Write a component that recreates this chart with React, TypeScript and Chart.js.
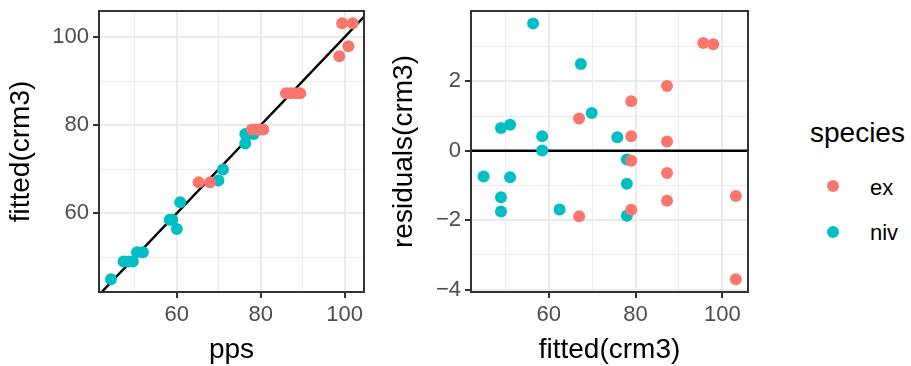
import React, { useEffect, useRef } from 'react';
import { Chart, registerables } from 'chart.js';

Chart.register(...registerables);

// ---- data ----
const speciesNames = ['ex', 'niv'];
const speciesColors = ['#F8766D', '#00BFC4'];

const exPps = [99.4, 101.9, 100.9, 98.7, 86.0, 87.1, 88.3, 89.4, 77.9, 78.8, 79.7, 80.6, 65.2, 67.9];
const exFitted = [103.1, 103.1, 97.9, 95.6, 87.25, 87.25, 87.25, 87.25, 79.0, 79.0, 79.0, 79.0, 67.0, 67.0];
const exResid = [-1.3, -3.7, 3.07, 3.11, 1.87, 0.27, -0.64, -1.44, 1.43, 0.42, -0.29, -1.7, 0.93, -1.89];

const nivPps = [60.0, 69.9, 71.0, 47.3, 50.5, 58.3, 58.9, 76.3, 76.3, 44.3, 51.9, 48.5, 49.5, 60.8, 77.2, 78.3];
const nivFitted = [56.4, 67.4, 69.9, 49.0, 51.1, 58.5, 58.5, 75.8, 78.0, 45.0, 51.1, 49.0, 49.0, 62.5, 78.0, 78.0];
const nivResid = [3.67, 2.5, 1.09, 0.66, 0.75, 0.42, 0.01, 0.39, -0.25, -0.74, -0.76, -1.34, -1.75, -1.69, -0.95, -1.87];

const leftXTicks = [50, 60, 70, 80, 90, 100];
const leftXMajor = [60, 80, 100];
const leftYTicks = [50, 60, 70, 80, 90, 100];
const leftYMajor = [60, 80, 100];
const rightXTicks = [50, 60, 70, 80, 90, 100];
const rightXMajor = [60, 80, 100];
const rightYTicks = [-4, -3, -2, -1, 0, 1, 2, 3];
const rightYMajor = [-4, -2, 0, 2];

const FONT = "'Liberation Sans', Arial, sans-serif";

function fmt(v: number) {
  return v < 0 ? '\u2212' + Math.abs(v) : String(v);
}

function makeAxis(
  min: number,
  max: number,
  ticks: number[],
  major: number[],
  title: string,
  horizontal: boolean,
  size: number,
  titlePad: number
) {
  return {
    type: 'linear',
    min,
    max,
    afterBuildTicks: (s: any) => {
      s.ticks = ticks.map((v) => ({ value: v }));
    },
    afterFit: (s: any) => {
      if (horizontal) s.height = size;
      else s.width = size;
      s.paddingTop = 0;
      s.paddingBottom = 0;
      s.paddingLeft = 0;
      s.paddingRight = 0;
    },
    grid: {
      color: '#EBEBEB',
      lineWidth: (c: any) => (c.tick && major.includes(c.tick.value) ? 2 : 1),
      tickColor: (c: any) => (c.tick && major.includes(c.tick.value) ? '#333333' : 'rgba(0,0,0,0)'),
      tickLength: 6,
      tickWidth: 2,
      drawTicks: true,
    },
    border: { display: false },
    ticks: {
      autoSkip: false,
      maxRotation: 0,
      minRotation: 0,
      color: '#4D4D4D',
      font: { family: FONT, size: 22 },
      padding: 4,
      callback: (v: any) => (major.includes(Number(v)) ? fmt(Number(v)) : ''),
    },
    title: {
      display: true,
      text: title,
      color: '#000000',
      font: { family: FONT, size: 28, lineHeight: 1.1 },
      padding: { top: titlePad, bottom: titlePad },
    },
  };
}

const borderPlugin = {
  id: 'panelBorder',
  afterDatasetsDraw(chart: any) {
    const { ctx, chartArea } = chart;
    const { left, top, right, bottom } = chartArea;
    ctx.save();
    ctx.strokeStyle = '#333333';
    ctx.lineWidth = 2;
    ctx.strokeRect(left, top, right - left, bottom - top);
    ctx.restore();
  },
};

function pts(xs: number[], ys: number[]) {
  return xs.map((x, i) => ({ x, y: ys[i] }));
}

function scatterSet(label: string, color: string, data: any[]) {
  return {
    label,
    data,
    backgroundColor: color,
    borderWidth: 0,
    pointRadius: 6,
    pointHoverRadius: 6,
    clip: false,
    order: 0,
  };
}

function ChartCanvas({ config, width, height, left }: any) {
  const ref = useRef<HTMLCanvasElement>(null);
  useEffect(() => {
    if (!ref.current) return;
    const chart = new Chart(ref.current, config);
    return () => chart.destroy();
  }, []);
  return (
    <canvas
      ref={ref}
      width={width}
      height={height}
      style={{ position: 'absolute', left, top: 0, width, height, display: 'block' }}
    />
  );
}

const commonOptions = (padding: any, scales: any) => ({
  responsive: false,
  animation: false,
  devicePixelRatio: 1,
  layout: { padding },
  plugins: { legend: { display: false }, tooltip: { enabled: false } },
  scales,
});

const leftConfig: any = {
  type: 'scatter',
  data: {
    datasets: [
      scatterSet(speciesNames[0], speciesColors[0], pts(exPps, exFitted)),
      scatterSet(speciesNames[1], speciesColors[1], pts(nivPps, nivFitted)),
      {
        label: 'identity',
        data: [{ x: 30, y: 30 }, { x: 120, y: 120 }],
        showLine: true,
        borderColor: '#000000',
        borderWidth: 2.4,
        pointRadius: 0,
        order: 10,
      },
    ],
  },
  options: commonOptions(
    { top: 11, right: 16, bottom: 0, left: 0 },
    {
      x: makeAxis(41.45, 104.6, leftXTicks, leftXMajor, 'pps', true, 74, 0),
      y: makeAxis(42.1, 105.9, leftYTicks, leftYMajor, 'fitted(crm3)', false, 99, 6),
    }
  ),
  plugins: [borderPlugin],
};

const rightConfig: any = {
  type: 'scatter',
  data: {
    datasets: [
      scatterSet(speciesNames[0], speciesColors[0], pts(exFitted, exResid)),
      scatterSet(speciesNames[1], speciesColors[1], pts(nivFitted, nivResid)),
      {
        label: 'zero',
        data: [{ x: 30, y: 0 }, { x: 120, y: 0 }],
        showLine: true,
        borderColor: '#000000',
        borderWidth: 2.4,
        pointRadius: 0,
        order: 10,
      },
    ],
  },
  options: commonOptions(
    { top: 11, right: 32, bottom: 0, left: 0 },
    {
      x: makeAxis(42.1, 105.9, rightXTicks, rightXMajor, 'fitted(crm3)', true, 74, 0),
      y: makeAxis(-4.07, 4.03, rightYTicks, rightYMajor, 'residuals(crm3)', false, 91, 9),
    }
  ),
  plugins: [borderPlugin],
};

export default function App() {
  return (
    <div
      style={{
        position: 'fixed',
        left: 0,
        top: 0,
        width: 911,
        height: 366,
        background: '#ffffff',
        overflow: 'hidden',
        fontFamily: FONT,
      }}
    >
      <ChartCanvas config={leftConfig} width={380} height={366} left={0} />
      <ChartCanvas config={rightConfig} width={400} height={366} left={380} />
      <div
        style={{
          position: 'absolute',
          left: 810,
          top: 119,
          fontSize: 28,
          lineHeight: '28px',
          color: '#000',
          whiteSpace: 'nowrap',
        }}
      >
        species
      </div>
      {speciesNames.map((name, i) => (
        <React.Fragment key={name}>
          <div
            style={{
              position: 'absolute',
              left: 833 - 6,
              top: 186 + i * 45.7 - 6,
              width: 12,
              height: 12,
              borderRadius: '50%',
              background: speciesColors[i],
            }}
          />
          <div
            style={{
              position: 'absolute',
              left: 870,
              top: 176.5 + i * 45.7,
              fontSize: 22,
              lineHeight: '22px',
              color: '#000',
              whiteSpace: 'nowrap',
            }}
          >
            {name}
          </div>
        </React.Fragment>
      ))}
    </div>
  );
}
